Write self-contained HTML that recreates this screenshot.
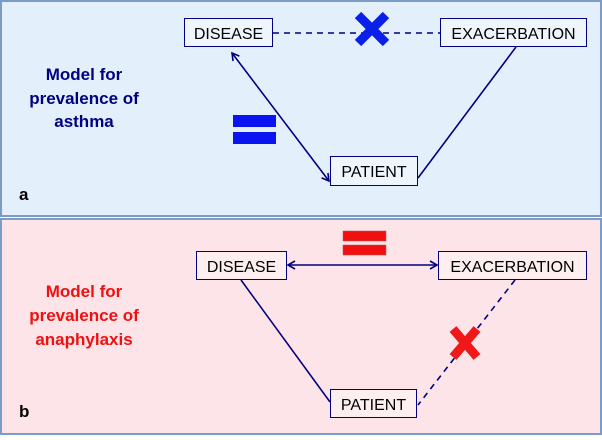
<!DOCTYPE html>
<html><head><style>
body{margin:0;width:602px;height:435px;overflow:hidden;background:#fff}
</style></head><body>
<svg width="602" height="435" xmlns="http://www.w3.org/2000/svg" font-family="Liberation Sans, Arial, sans-serif">
<defs>
<marker id="ah" markerWidth="10" markerHeight="10" refX="8" refY="5" orient="auto-start-reverse" markerUnits="userSpaceOnUse">
<path d="M1,1 L8,5 L1,9" fill="none" stroke="#000080" stroke-width="1.6"/>
</marker>
</defs>
<rect x="1" y="1" width="600" height="215" fill="#e3f0fc" stroke="#7a9cc6" stroke-width="2"/>
<rect x="1" y="219" width="600" height="215" fill="#fde4e8" stroke="#7a9cc6" stroke-width="2"/>

<!-- panel a -->
<line x1="273" y1="33" x2="440" y2="33" stroke="#000080" stroke-width="1.6" stroke-dasharray="6,5"/>
<line x1="232" y1="53" x2="329" y2="181" stroke="#000080" stroke-width="1.6" marker-start="url(#ah)" marker-end="url(#ah)"/>
<line x1="516" y1="47" x2="418" y2="178" stroke="#000080" stroke-width="1.6"/>
<g transform="translate(372,29)"><path d="M-14,-14 L14,14 M14,-14 L-14,14" stroke="#0a1fe8" stroke-width="9"/></g>
<rect x="233" y="115" width="43" height="12" fill="#0a14f0"/>
<rect x="233" y="132" width="43" height="12" fill="#0a14f0"/>
<rect x="184.5" y="18.5" width="88" height="28" fill="#eef5fd" stroke="#000080"/>
<text x="228.5" y="39" font-size="16" text-anchor="middle">DISEASE</text>
<rect x="440.5" y="18.5" width="146" height="28" fill="#eef5fd" stroke="#000080"/>
<text x="513.5" y="39" font-size="16" text-anchor="middle">EXACERBATION</text>
<rect x="330.5" y="156.5" width="87" height="29" fill="#eef5fd" stroke="#000080"/>
<text x="374" y="177" font-size="16" text-anchor="middle">PATIENT</text>
<g font-size="17" font-weight="bold" fill="#000080" text-anchor="middle">
<text x="84" y="80">Model for</text>
<text x="84" y="104">prevalence of</text>
<text x="84" y="127">asthma</text>
</g>
<text x="19" y="200" font-size="17" font-weight="bold">a</text>

<!-- panel b -->
<line x1="288" y1="265" x2="437" y2="265" stroke="#000080" stroke-width="1.6" marker-start="url(#ah)" marker-end="url(#ah)"/>
<line x1="241" y1="280" x2="330" y2="402" stroke="#000080" stroke-width="1.6"/>
<line x1="515" y1="280" x2="418" y2="405" stroke="#000080" stroke-width="1.6" stroke-dasharray="6,5"/>
<g transform="translate(465,343)"><path d="M-12,-14 L12,14 M12,-14 L-12,14" stroke="#f01818" stroke-width="9"/></g>
<rect x="343" y="231" width="43" height="10" fill="#f01010" stroke="#c05050" stroke-width="0.5"/>
<rect x="343" y="245" width="43" height="10" fill="#f01010" stroke="#c05050" stroke-width="0.5"/>
<rect x="196.5" y="251.5" width="90" height="28" fill="#fdeef0" stroke="#000080"/>
<text x="241.5" y="272" font-size="16" text-anchor="middle">DISEASE</text>
<rect x="438.5" y="251.5" width="148" height="28" fill="#fdeef0" stroke="#000080"/>
<text x="512.5" y="272" font-size="16" text-anchor="middle">EXACERBATION</text>
<rect x="330.5" y="389.5" width="86" height="28" fill="#fdeef0" stroke="#000080"/>
<text x="373.5" y="410" font-size="16" text-anchor="middle">PATIENT</text>
<g font-size="17" font-weight="bold" fill="#f01010" text-anchor="middle">
<text x="84" y="297">Model for</text>
<text x="84" y="321">prevalence of</text>
<text x="84" y="345">anaphylaxis</text>
</g>
<text x="19" y="417" font-size="17" font-weight="bold">b</text>
</svg>
</body></html>
